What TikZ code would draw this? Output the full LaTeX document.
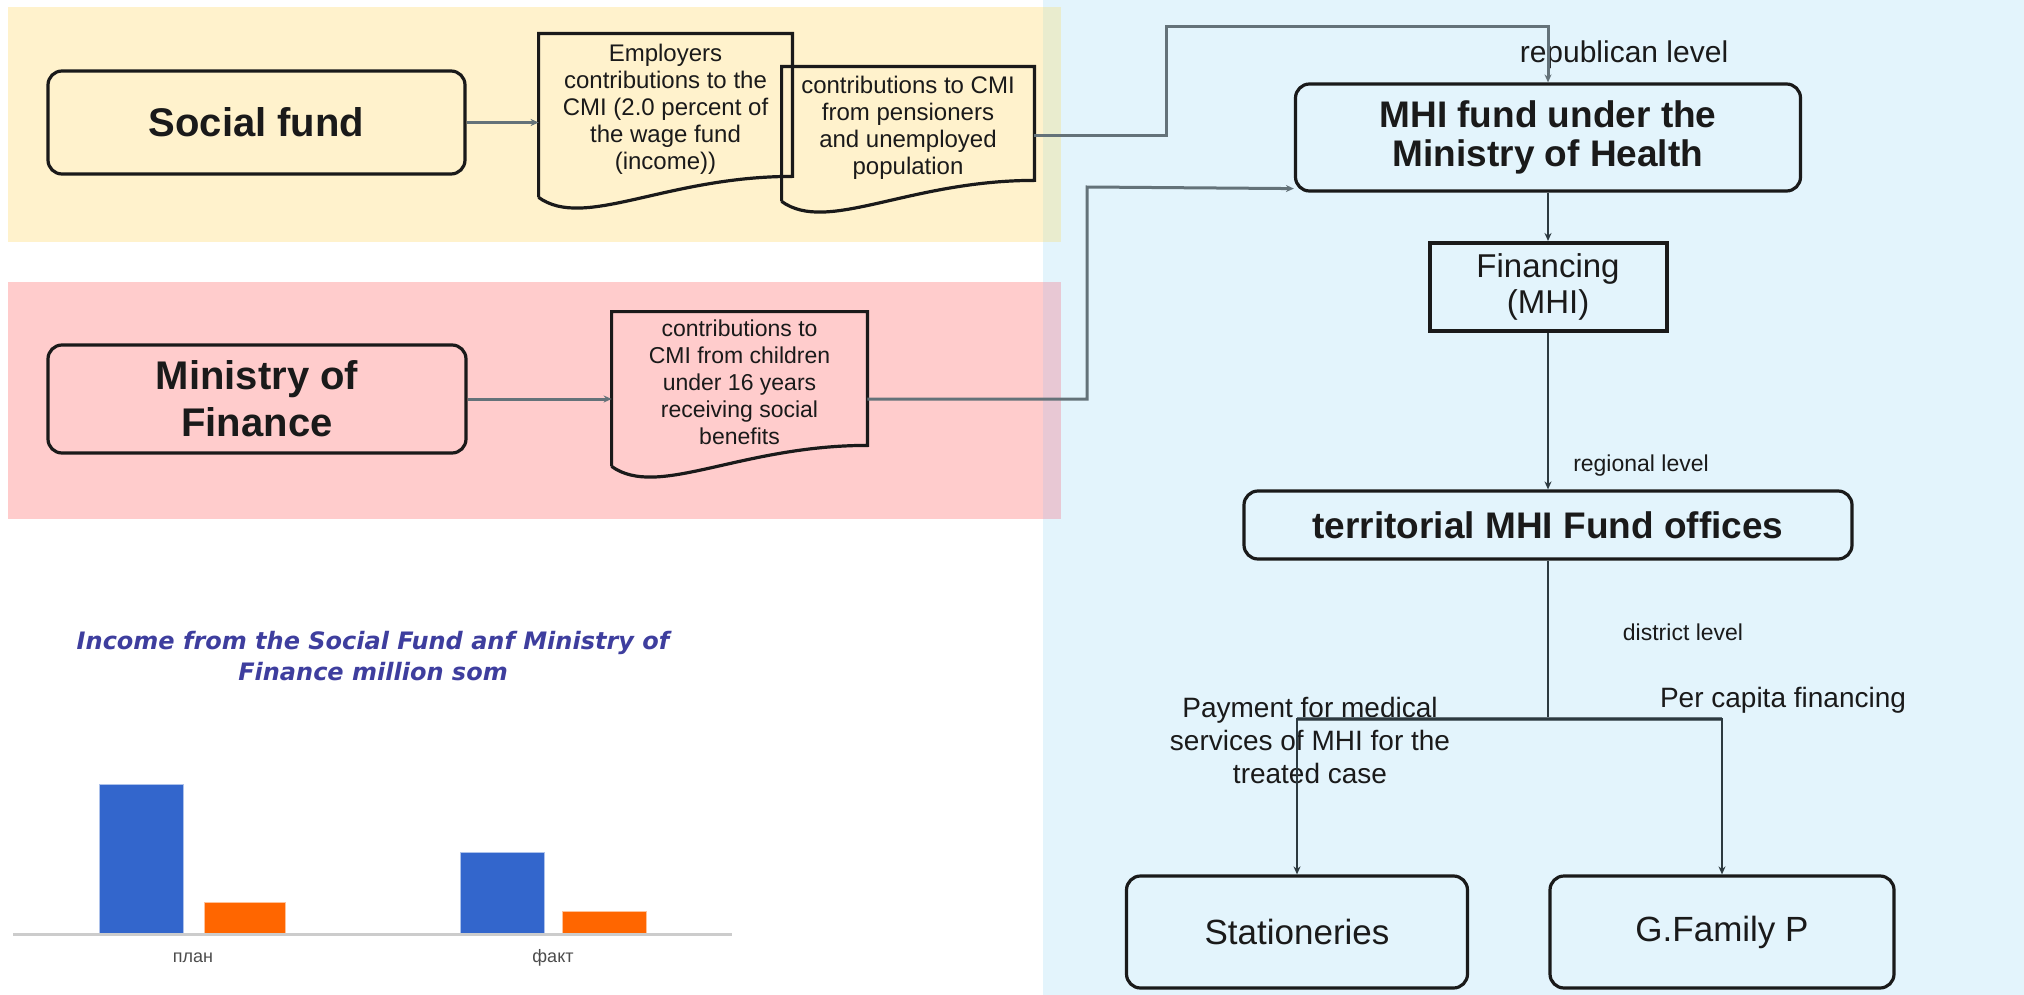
\documentclass[tikz,border=0pt]{standalone}
\usepackage{fontspec}
\setmainfont{Liberation Sans}
\newfontfamily\chartfont{DejaVu Sans}
\usetikzlibrary{positioning,calc,arrows.meta}

\definecolor{fundyellow}{RGB}{255,242,204}
\definecolor{finpink}{RGB}{255,204,204}
\definecolor{healthblue}{RGB}{227,244,252}
\definecolor{mixyellow}{RGB}{233,236,206}
\definecolor{mixpink}{RGB}{232,200,212}
\definecolor{linegrey}{RGB}{100,114,121}
\definecolor{linedark}{RGB}{45,58,64}
\definecolor{inkdark}{RGB}{26,26,26}
\definecolor{titleblue}{RGB}{62,62,158}
\definecolor{barblue}{RGB}{51,102,204}
\definecolor{barorange}{RGB}{255,102,0}

% outline of a document shape round a named node
\newcommand{\docwave}[1]{%
  \draw[docline] ($(#1.south west)+(0,13)$) -- (#1.north west) -- (#1.north east) -- ($(#1.south east)+(0,-8)$)
    .. controls ($(#1.south east)!0.5!(#1.south west)+(0,-8)$) and ($(#1.south east)!0.82!(#1.south west)+(0,46)$) .. ($(#1.south west)+(0,13)$);}

\begin{document}
\begin{tikzpicture}[x=0.5pt,y=-0.5pt,>={Stealth[length=4pt,width=3.5pt]},
  box/.style={draw=inkdark,rounded corners=7pt,line width=1.6pt,text=inkdark,align=center,inner sep=0pt},
  bigbox/.style={box,font=\fontsize{20}{23.5}\selectfont\bfseries},
  headbox/.style={box,font=\fontsize{18.5}{19.5}\selectfont\bfseries},
  endbox/.style={box,font=\fontsize{17.5}{20}\selectfont},
  finbox/.style={box,rounded corners=0pt,line width=2pt,font=\fontsize{16.5}{18}\selectfont},
  doc/.style={inner sep=0pt,align=center,text=inkdark,font=\fontsize{12}{13.5}\selectfont},
  docline/.style={draw=inkdark,line width=1.6pt},
  lvl/.style={inner sep=0pt,align=center,text=inkdark},
  link/.style={draw=linegrey,line width=1.5pt},
  flow/.style={draw=linedark,line width=1.1pt}]

    \useasboundingbox (0,0) rectangle (2024,995);

    % coloured bands
    \fill[healthblue] (1043,0) rectangle (2024,995);
    \fill[fundyellow] (8,7) rectangle (1043,242);
    \fill[mixyellow] (1043,7) rectangle (1061,242);
    \fill[finpink] (8,282) rectangle (1043,519);
    \fill[mixpink] (1043,282) rectangle (1061,519);

    % sources
    \node[bigbox,minimum width=208.5pt,minimum height=51.5pt] (soc) at (256.5,122.5) {Social fund};
    \node[bigbox,minimum width=209pt,minimum height=54pt] (mof) at (257,399) {Ministry of\\Finance};

    \node[doc,minimum width=126.5pt,minimum height=75pt] (emp) at (665.5,109) {Employers\\contributions to the\\CMI (2.0 percent of\\the wage fund\\(income))};
    \node[doc,minimum width=126pt,minimum height=60.5pt] (pens) at (908,127.5) {contributions to CMI\\from pensioners\\and unemployed\\population};
    \node[doc,font=\fontsize{11.5}{13.5}\selectfont,minimum width=127.5pt,minimum height=70.5pt] (kids) at (739.5,382.5) {contributions to\\CMI from children\\under 16 years\\receiving social\\benefits};
    \docwave{emp}
    \docwave{pens}
    \docwave{kids}

    % fund side
    \node[headbox,minimum width=252.5pt,minimum height=53.5pt] (mhi) at (1548,137.5) {MHI fund under the\\Ministry of Health};
    \node[finbox,minimum width=118.5pt,minimum height=44pt] (fin) at (1548,287) {Financing\\(MHI)};
    \node[headbox,minimum width=304pt,minimum height=34pt] (terr) at (1548,525) {territorial MHI Fund offices};
    \node[endbox,minimum width=170.5pt,minimum height=56pt] (stat) at (1297,932) {Stationeries};
    \node[endbox,minimum width=172pt,minimum height=56pt] (gfam) at (1722,932) {G.Family P};

    \node[lvl,font=\fontsize{15}{18}\selectfont] (replvl) at (1624,55) {republican level};
    \node[lvl,font=\fontsize{11.5}{14}\selectfont] (reglvl) at (1641,466) {regional level};
    \node[lvl,font=\fontsize{11.5}{14}\selectfont] (distlvl) at (1683,632) {district level};
    \node[lvl,font=\fontsize{14}{16.5}\selectfont] (paycase) at (1310,740) {Payment for medical\\services of MHI for the\\treated case};
    \node[lvl,font=\fontsize{14}{16.5}\selectfont] (percap) at (1783,700) {Per capita financing};

    \coordinate (rep) at (1166,27);
    \coordinate (mofx) at (1087,187);
    \coordinate (split) at (1548,719);

    \draw[link,->] (soc.east) -- (soc.east -| emp.west);
    \draw[link,->] (mof.east) -- (mof.east -| kids.west);
    \draw[link,->] ([yshift=-4pt]pens.east) -| (rep) -| (mhi.north);
    \draw[link,->] (mof.east -| kids.east) -| (mofx) -- ([yshift=2pt]mhi.south west);
    \draw[flow,->] (mhi) -- (fin);
    \draw[flow,->] (fin) -- (terr);
    \draw[flow] (terr.south) -- (split);
    \draw[link,line width=2pt] (split -| stat.north) -- (split -| gfam.north);
    \draw[flow,->] (split) -| (stat.north);
    \draw[flow,->] (split) -| (gfam.north);

    % chart
    \node[lvl,text=titleblue,font=\chartfont\fontsize{12}{15.5}\selectfont\bfseries\itshape] (charttitle) at (373,656) {Income from the Social Fund anf Ministry of\\Finance million som};
    \fill[barblue,draw=barblue!40] (99,784) rectangle (183,934);
    \fill[barorange,draw=barorange!40] (204,902) rectangle (285,934);
    \fill[barblue,draw=barblue!40] (460,852) rectangle (544,934);
    \fill[barorange,draw=barorange!40] (562,911) rectangle (646,934);
    \draw[black!20,line width=1.5pt] (13,934) -- (732,934);
    \node[lvl,text=black!70,font=\fontsize{9}{11}\selectfont] (plan) at (193,958) {план};
    \node[lvl,text=black!70,font=\fontsize{9}{11}\selectfont] (fakt) at (553,958) {факт};
\end{tikzpicture}
\end{document}
